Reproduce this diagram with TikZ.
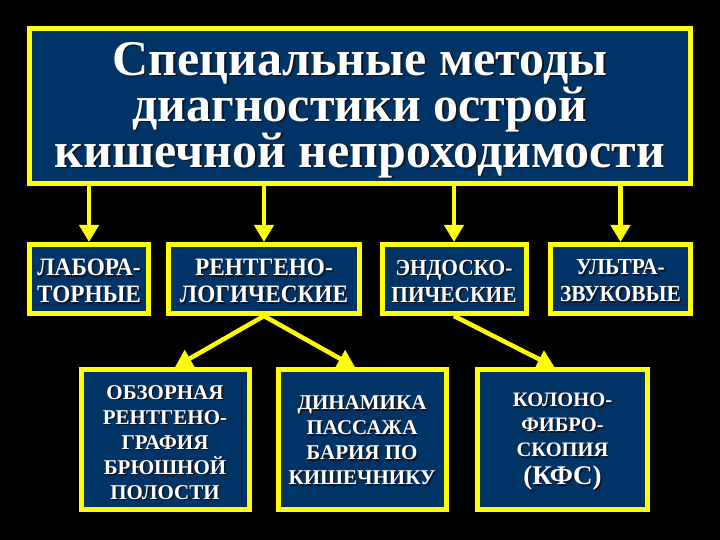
\documentclass[tikz,border=0pt]{standalone}
\usepackage{fontspec}
\setmainfont{Liberation Serif}
\newfontfamily\condf[FakeStretch=0.93]{Liberation Serif}
\usetikzlibrary{arrows.meta}
\definecolor{navy}{RGB}{0,51,102}
\definecolor{ylw}{RGB}{255,255,0}
\definecolor{shadowc}{RGB}{20,20,30}
\newcommand\mybox[8]{%
  \node[box, minimum width=#4pt, minimum height=#5pt] (#1) at (#2,#3) {};
  \node[txt, font=\bfseries#6, text=shadowc] at ([shift={(1.6,#7+1.6)}]#1.center) {#8};
  \node[txt, font=\bfseries#6] at ([yshift=-#7pt]#1.center) {#8};
}
\begin{document}
\begin{tikzpicture}[x=1pt,y=-1pt,
  box/.style={draw=ylw, line width=5pt, fill=navy, inner sep=0pt},
  txt/.style={text=white, align=center, inner sep=0pt},
  arr/.style={draw=ylw, line width=4.5pt, -{Triangle[width=19pt,length=17pt]}}]
\fill[black] (0,0) rectangle (720,540);
\useasboundingbox (0,0) rectangle (720,540);

\mybox{title}{360}{106}{661}{155}{\fontsize{50}{46}\selectfont}{4}{Специальные методы\\диагностики острой\\кишечной непроходимости}

\mybox{lab}{89}{279}{119}{69}{\condf\fontsize{25}{27}\selectfont}{2}{ЛАБОРА-\\ТОРНЫЕ}
\mybox{rtg}{264}{279}{191}{69}{\condf\fontsize{25}{27}\selectfont}{2}{РЕНТГЕНО-\\ЛОГИЧЕСКИЕ}
\mybox{end}{454}{279}{144}{69}{\condf\fontsize{23}{27}\selectfont}{2}{ЭНДОСКО-\\ПИЧЕСКИЕ}
\mybox{usd}{620.5}{279}{140}{69}{\condf\fontsize{23}{27}\selectfont}{2}{УЛЬТРА-\\ЗВУКОВЫЕ}

\mybox{obz}{165}{439.5}{168}{140}{\fontsize{21}{25}\selectfont}{3}{ОБЗОРНАЯ\\РЕНТГЕНО-\\ГРАФИЯ\\БРЮШНОЙ\\ПОЛОСТИ}
\mybox{din}{362}{439.5}{168}{140}{\fontsize{21}{25}\selectfont}{1}{ДИНАМИКА\\ПАССАЖА\\БАРИЯ ПО\\КИШЕЧНИКУ}
\mybox{kol}{562.5}{439.5}{170}{140}{\fontsize{20.5}{25}\selectfont}{2}{КОЛОНО-\\ФИБРО-\\СКОПИЯ\\[3pt]{\fontsize{27}{30}\selectfont (КФС)}}

\foreach \n in {lab,rtg,end,usd}
  \draw[arr] (title.south -| \n.north) -- (\n.north);
\draw[arr] (rtg.south) -- ([xshift=10pt]obz.north);
\draw[arr] (rtg.south) -- ([xshift=-7pt]din.north);
\draw[arr] (end.south) -- ([xshift=-8pt]kol.north);
\end{tikzpicture}
\end{document}
